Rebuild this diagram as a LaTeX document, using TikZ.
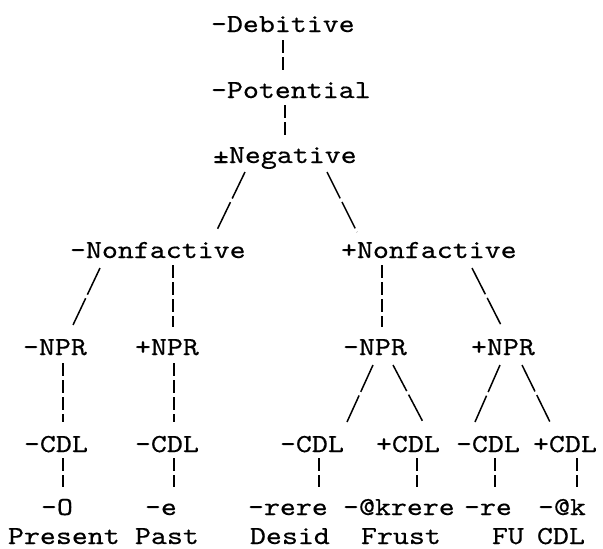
\documentclass[tikz,border=0pt]{standalone}
\usepackage{fontspec}
\newfontfamily\tw[FakeStretch=1.17,FakeBold=0.4]{lmmono10-regular.otf}
\usetikzlibrary{calc}
\begin{document}
\begin{tikzpicture}[x=1pt,y=-1pt,
  lbl/.style={anchor=base west,inner sep=0pt,outer sep=0pt,
    font=\tw\fontsize{26}{30}\selectfont},
  vbar/.style={line width=1.5pt,dash pattern=on 13pt off 4pt},
  slant/.style={line width=1.5pt,dash pattern=on 29.5pt off 4pt}]
\useasboundingbox (0,0) rectangle (603,549);

% feature nodes, top to bottom
\node[lbl] (deb) at (211,32) {-Debitive};
\node[lbl] (pot) at (211,98) {-Potential};
\node[lbl] (neg) at (213,163) {±Negative};
\node[lbl] (nfl) at (70,258) {-Nonfactive};
\node[lbl] (nfr) at (341,258) {+Nonfactive};
\node[lbl] (nprA) at (23,355) {-NPR};
\node[lbl] (nprB) at (135,355) {+NPR};
\node[lbl] (nprC) at (343,355) {-NPR};
\node[lbl] (nprD) at (471,355) {+NPR};
\node[lbl] (cdlA) at (24,452) {-CDL};
\node[lbl] (cdlB) at (135,452) {-CDL};
\node[lbl] (cdlC) at (280,452) {-CDL};
\node[lbl] (cdlD) at (376,452) {+CDL};
\node[lbl] (cdlE) at (456,452) {-CDL};
\node[lbl] (cdlF) at (533,452) {+CDL};
% suffixes
\node[lbl] (sufA) at (41,515) {-O};
\node[lbl] (sufB) at (145,515) {-e};
\node[lbl] (sufC) at (248,515) {-rere};
\node[lbl] (sufD) at (343,515) {-@krere};
\node[lbl] (sufE) at (464,515) {-re};
\node[lbl] (sufF) at (538,515) {-@k};
% category names
\node[lbl] (labA) at (8,544) {Present};
\node[lbl] (labB) at (135,544) {Past};
\node[lbl] (labC) at (250,544) {Desid};
\node[lbl] (labD) at (361,544) {Frust};
\node[lbl] (labE) at (492,544) {FU};
\node[lbl] (labF) at (537,544) {CDL};

% branches
\draw[vbar] ($(deb.base west)+(72,8)$) -- ($(pot.base west)+(72,-28)$);
\draw[vbar] ($(pot.base west)+(74,7)$) -- ($(neg.base west)+(72,-28)$);
\draw[slant] ($(neg.base west)+(32,9)$) -- ($(nfl.base west)+(147,-28)$);
\draw[slant] ($(neg.base west)+(114,9)$) -- ($(nfr.base west)+(16,-26)$);
\draw[slant] ($(nfl.base west)+(30,10)$) -- ($(nprA.base west)+(50,-30)$);
\draw[vbar] ($(nfl.base west)+(103,7)$) -- ($(nprB.base west)+(38,-28)$);
\draw[vbar] ($(nfr.base west)+(41,7)$) -- ($(nprC.base west)+(39,-28)$);
\draw[slant] ($(nfr.base west)+(131,10)$) -- ($(nprD.base west)+(31,-28)$);
\draw[vbar] ($(nprA.base west)+(40,8)$) -- ($(cdlA.base west)+(39,-30)$);
\draw[vbar] ($(nprB.base west)+(39,8)$) -- ($(cdlB.base west)+(39,-30)$);
\draw[slant] ($(nprC.base west)+(30,10)$) -- ($(cdlC.base west)+(67,-30)$);
\draw[slant] ($(nprC.base west)+(50,10)$) -- ($(cdlD.base west)+(47,-30)$);
\draw[slant] ($(nprD.base west)+(29,10)$) -- ($(cdlE.base west)+(19,-30)$);
\draw[slant] ($(nprD.base west)+(51,10)$) -- ($(cdlF.base west)+(17,-30)$);
\draw[vbar] ($(cdlA.base west)+(39,6)$) -- ($(sufA.base west)+(22,-28)$);
\draw[vbar] ($(cdlB.base west)+(39,6)$) -- ($(sufB.base west)+(29,-28)$);
\draw[vbar] ($(cdlC.base west)+(39,6)$) -- ($(sufC.base west)+(71,-28)$);
\draw[vbar] ($(cdlD.base west)+(41,6)$) -- ($(sufD.base west)+(74,-28)$);
\draw[vbar] ($(cdlE.base west)+(39,6)$) -- ($(sufE.base west)+(31,-28)$);
\draw[vbar] ($(cdlF.base west)+(44,6)$) -- ($(sufF.base west)+(39,-28)$);
\end{tikzpicture}
\end{document}
